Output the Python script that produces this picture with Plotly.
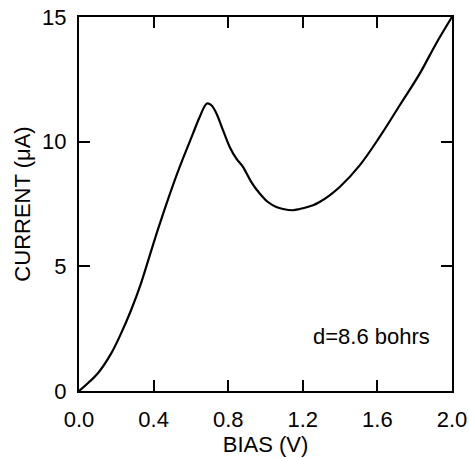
import plotly.graph_objects as go

bias = [0.0, 0.05, 0.10, 0.172, 0.225, 0.279, 0.332, 0.377, 0.422, 0.48, 0.54, 0.611,
        0.647, 0.686, 0.710, 0.737, 0.772, 0.808, 0.844, 0.879, 0.924, 0.969, 1.013,
        1.058, 1.094, 1.147, 1.183, 1.255, 1.29, 1.344, 1.398, 1.505, 1.612, 1.72,
        1.827, 1.916, 2.0]
current = [0.0, 0.33, 0.70, 1.50, 2.30, 3.24, 4.31, 5.38, 6.45, 7.75, 8.99, 10.32,
           10.99, 11.53, 11.46, 11.13, 10.46, 9.79, 9.32, 8.99, 8.38, 7.92, 7.58,
           7.38, 7.30, 7.25, 7.30, 7.45, 7.58, 7.85, 8.18, 9.05, 10.19, 11.46,
           12.73, 13.95, 15.0]

x_ticks = [0.0, 0.4, 0.8, 1.2, 1.6, 2.0]
x_tick_labels = ["0.0", "0.4", "0.8", "1.2", "1.6", "2.0"]
y_ticks = [0, 5, 10, 15]
y_tick_labels = ["0", "5", "10", "15"]

font_family = "Liberation Sans, Arial, Helvetica, sans-serif"

fig = go.Figure()
fig.add_trace(go.Scatter(
    x=bias, y=current, mode="lines",
    line=dict(color="black", width=2.2, shape="spline", smoothing=1.0),
    showlegend=False, hoverinfo="skip",
))

fig.add_annotation(
    x=1.568, y=2.19, xref="x", yref="y", text="d=8.6 bohrs",
    showarrow=False, font=dict(family=font_family, size=22, color="black"),
)

axis_common = dict(
    showgrid=False, zeroline=False, showline=True, linecolor="black", linewidth=2,
    mirror="ticks", ticks="inside", ticklen=11, tickwidth=1.5, tickcolor="black",
    tickfont=dict(family=font_family, size=22, color="black"),
    automargin=False,
)

fig.update_layout(
    width=469, height=458,
    margin=dict(l=79, r=17, t=17, b=67),
    paper_bgcolor="white", plot_bgcolor="white",
    xaxis=dict(
        range=[0, 2.0], tickvals=x_ticks, ticktext=x_tick_labels,
        title=dict(text="BIAS (V)", font=dict(family=font_family, size=22, color="black"), standoff=2),
        ticklabelstandoff=8,
        **axis_common,
    ),
    yaxis=dict(
        range=[0, 15], tickvals=y_ticks, ticktext=y_tick_labels,
        title=dict(text="CURRENT (μA)", font=dict(family=font_family, size=22, color="black"), standoff=5),
        ticklabelstandoff=6,
        **axis_common,
    ),
)

fig.write_html("out.html", config={"displayModeBar": False},
               post_script="document.body.style.margin='0';")
